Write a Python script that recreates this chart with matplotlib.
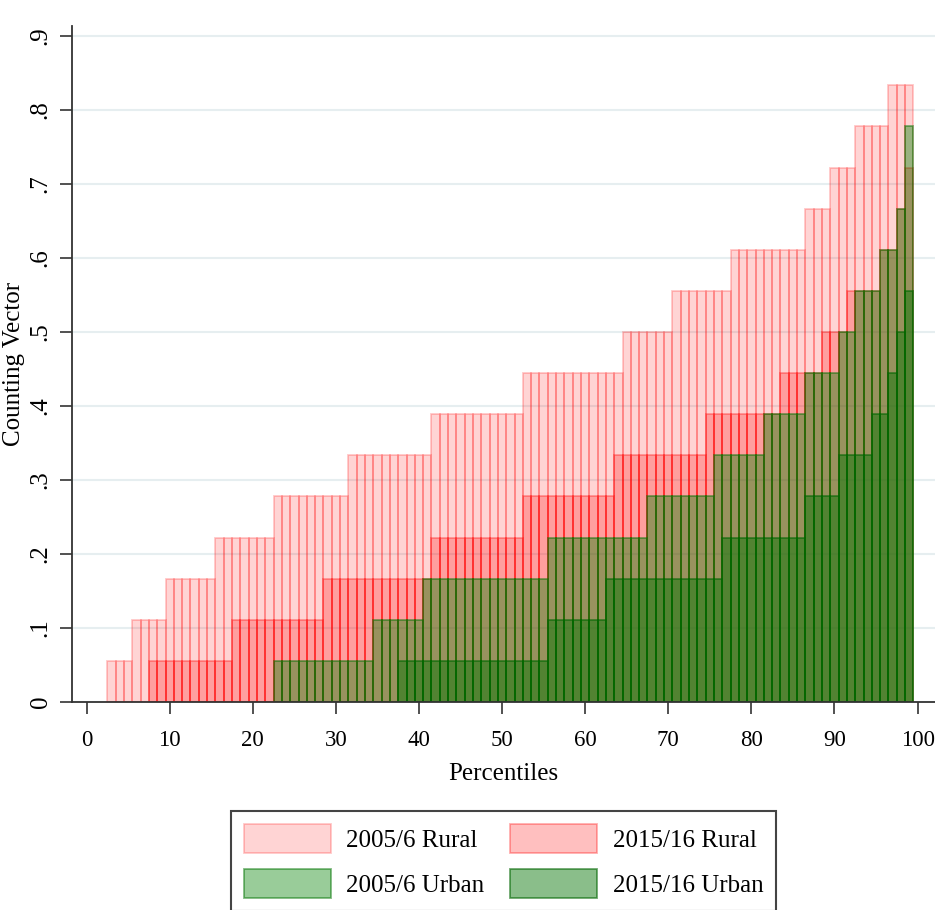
import matplotlib
matplotlib.use('Agg')
import matplotlib.pyplot as plt
import numpy as np

# percentile at which each step begins; level = count of indicators out of 18
pct = np.arange(1, 100)
n_ind = 18

rural05_starts = [3, 6, 10, 16, 23, 32, 42, 53, 65, 71, 78, 87, 90, 93, 97]
rural05_levels = [1, 2, 3, 4, 5, 6, 7, 8, 9, 10, 11, 12, 13, 14, 15]
rural15_starts = [8, 18, 29, 42, 53, 64, 75, 84, 89, 92, 96, 98, 99]
rural15_levels = [1, 2, 3, 4, 5, 6, 7, 8, 9, 10, 11, 12, 13]
urban05_starts = [23, 35, 41, 56, 68, 76, 82, 87, 91, 93, 96, 98, 99]
urban05_levels = [1, 2, 3, 4, 5, 6, 7, 8, 9, 10, 11, 12, 14]
urban15_starts = [38, 56, 63, 77, 87, 91, 95, 97, 98, 99]
urban15_levels = [1, 2, 3, 4, 5, 6, 7, 8, 9, 10]

labels = ['2005/6 Rural', '2015/16 Rural', '2005/6 Urban', '2015/16 Urban']
fills = [(1, 0, 0, 0.17), (1, 0, 0, 0.25), (0, 0.5, 0, 0.40), (0, 0.45, 0, 0.46)]
edges = [(1, 0, 0, 0.22), (1, 0, 0, 0.32), (0, 0.45, 0, 0.50), (0, 0.40, 0, 0.58)]
ytick_labels = ['0', '.1', '.2', '.3', '.4', '.5', '.6', '.7', '.8', '.9']

plt.rcParams['font.family'] = ['Liberation Serif', 'DejaVu Serif']


def steps(starts, levels):
    idx = np.searchsorted(starts, pct, side='right')
    lv = np.concatenate([[0], levels])
    return lv[idx] / n_ind


series = [steps(rural05_starts, rural05_levels), steps(rural15_starts, rural15_levels),
          steps(urban05_starts, urban05_levels), steps(urban15_starts, urban15_levels)]

fig = plt.figure(figsize=(9.35, 9.10), dpi=100)
ax = fig.add_axes([72 / 935, 1 - 702 / 910, 1 - 72 / 935, (702 - 26) / 910])

handles = []
for vals, fc, ec, lab in zip(series, fills, edges, labels):
    m = vals > 0
    b = ax.bar(pct[m], vals[m], width=1, color=fc, edgecolor=ec, linewidth=1.3, label=lab, zorder=2)
    handles.append(b)

ax.set_xlim(-1.76, 102.1)
ax.set_ylim(0, 0.9135)
ax.set_xticks(range(0, 101, 10))
ax.set_yticks(np.arange(0, 0.91, 0.1))
ax.set_yticklabels(ytick_labels, rotation=90, va='center')
ax.yaxis.grid(True, color='#e6eef0', linewidth=1.5, zorder=0)
ax.set_axisbelow(True)
for s in ['top', 'right']:
    ax.spines[s].set_visible(False)
for s in ['left', 'bottom']:
    ax.spines[s].set_color('#333333')
    ax.spines[s].set_linewidth(1.3)
ax.tick_params(axis='both', direction='out', length=8.5, width=1.2, color='#333333', labelsize=18)
ax.tick_params(axis='x', pad=12, labelsize=16.5)
ax.tick_params(axis='y', pad=6)
ax.set_xlabel('Percentiles', fontsize=18, labelpad=8)
ax.set_ylabel('Counting Vector', fontsize=18)
ax.yaxis.set_label_coords(-0.055, 0.5)

# legend fills row-wise in the reference: reorder for matplotlib's column fill
order = [0, 2, 1, 3]
lgd = fig.legend(handles=[handles[i] for i in order], labels=[labels[i] for i in order],
                 ncol=2, loc='upper left', bbox_to_anchor=(231 / 935, 1 - 811 / 910),
                 borderaxespad=0, fontsize=18,
                 handlelength=3.5, handleheight=1.45, handletextpad=0.62,
                 columnspacing=1.0, labelspacing=0.62, borderpad=0.5,
                 fancybox=False, framealpha=1)
lgd.get_frame().set_edgecolor('#444444')
lgd.get_frame().set_linewidth(1.5)

plt.savefig('out.png', dpi=100)
